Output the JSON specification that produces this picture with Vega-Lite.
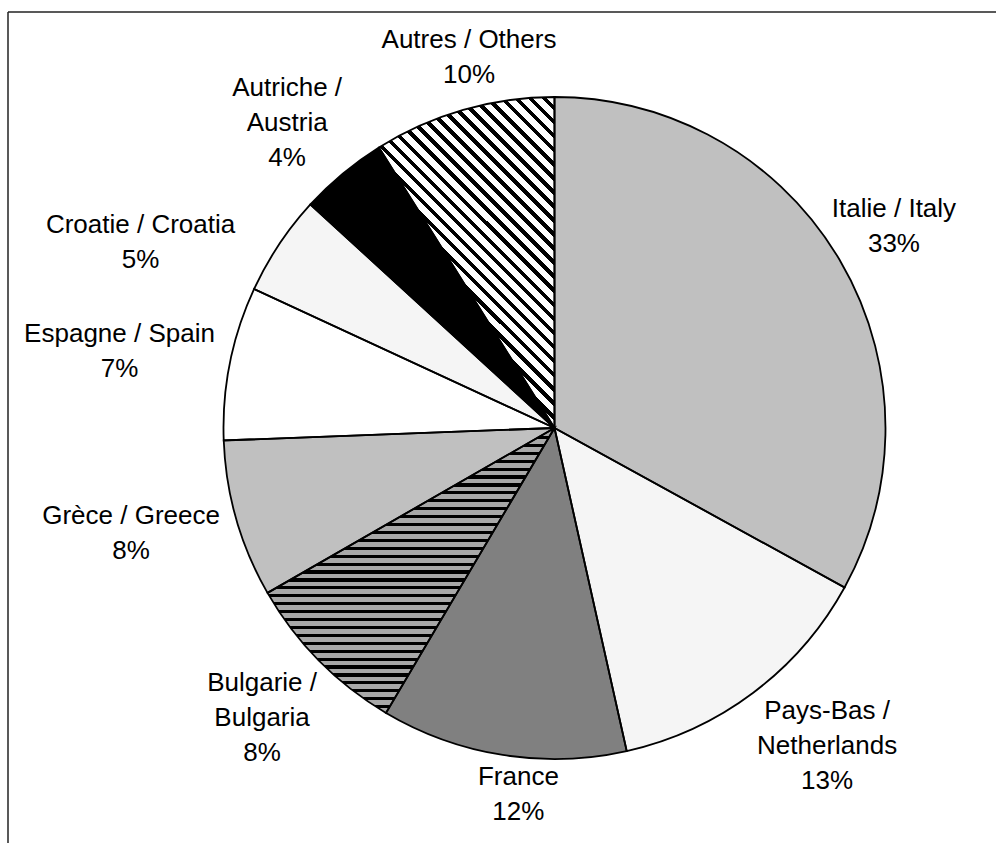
{
  "$schema": "https://vega.github.io/schema/vega-lite/v6.json",
  "autosize": "none",
  "padding": {"left": 8, "top": 12, "right": 0, "bottom": 0},
  "width": 1093,
  "height": 832,
  "background": "#ffffff",
  "config": {"view": {"stroke": null}},
  "data": {"values": [
    {"idx": 1, "key": "Italy", "value": 33.0, "label": "Italie / Italy\n33%"},
    {"idx": 2, "key": "Netherlands", "value": 13.5, "label": "Pays-Bas /\nNetherlands\n13%"},
    {"idx": 3, "key": "France", "value": 12.0, "label": "France\n12%"},
    {"idx": 4, "key": "Bulgaria", "value": 8.2, "label": "Bulgarie /\nBulgaria\n8%"},
    {"idx": 5, "key": "Greece", "value": 7.7, "label": "Grèce / Greece\n8%"},
    {"idx": 6, "key": "Spain", "value": 7.5, "label": "Espagne / Spain\n7%"},
    {"idx": 7, "key": "Croatia", "value": 4.9, "label": "Croatie / Croatia\n5%"},
    {"idx": 8, "key": "Austria", "value": 4.3, "label": "Autriche /\nAustria\n4%"},
    {"idx": 9, "key": "Others", "value": 8.9, "label": "Autres / Others\n10%"}
  ]},
  "layer": [
    {
      "encoding": {
        "theta": {"field": "value", "type": "quantitative", "stack": true},
        "order": {"field": "idx", "type": "quantitative"},
        "detail": {"field": "key", "type": "nominal"}
      },
      "layer": [
        {
          "mark": {"type": "arc", "radius": 331, "strokeWidth": 0},
          "encoding": {
            "color": {"field": "key", "type": "nominal", "legend": null,
              "scale": {"domain": ["Italy", "Netherlands", "France", "Bulgaria", "Greece", "Spain", "Croatia", "Austria", "Others"],
                        "range": ["#c0c0c0", "#f5f5f5", "#808080", "#a8a8a8", "#c0c0c0", "#ffffff", "#f5f5f5", "#000000", "#ffffff"]}}
          }
        },
        {
          "mark": {"type": "arc", "radius": 331, "strokeWidth": 0,
            "fill": {"gradient": "linear", "x1": 0, "y1": 0, "x2": 0, "y2": 1, "stops": [
{"offset":0,"color":"#000"},{"offset":0.01111,"color":"#000"},{"offset":0.01111,"color":"#a8a8a8"},{"offset":0.02778,"color":"#a8a8a8"},
{"offset":0.02778,"color":"#000"},{"offset":0.03889,"color":"#000"},{"offset":0.03889,"color":"#a8a8a8"},{"offset":0.05556,"color":"#a8a8a8"},
{"offset":0.05556,"color":"#000"},{"offset":0.06667,"color":"#000"},{"offset":0.06667,"color":"#a8a8a8"},{"offset":0.08333,"color":"#a8a8a8"},
{"offset":0.08333,"color":"#000"},{"offset":0.09444,"color":"#000"},{"offset":0.09444,"color":"#a8a8a8"},{"offset":0.11111,"color":"#a8a8a8"},
{"offset":0.11111,"color":"#000"},{"offset":0.12222,"color":"#000"},{"offset":0.12222,"color":"#a8a8a8"},{"offset":0.13889,"color":"#a8a8a8"},
{"offset":0.13889,"color":"#000"},{"offset":0.15,"color":"#000"},{"offset":0.15,"color":"#a8a8a8"},{"offset":0.16667,"color":"#a8a8a8"},
{"offset":0.16667,"color":"#000"},{"offset":0.17778,"color":"#000"},{"offset":0.17778,"color":"#a8a8a8"},{"offset":0.19444,"color":"#a8a8a8"},
{"offset":0.19444,"color":"#000"},{"offset":0.20556,"color":"#000"},{"offset":0.20556,"color":"#a8a8a8"},{"offset":0.22222,"color":"#a8a8a8"},
{"offset":0.22222,"color":"#000"},{"offset":0.23333,"color":"#000"},{"offset":0.23333,"color":"#a8a8a8"},{"offset":0.25,"color":"#a8a8a8"},
{"offset":0.25,"color":"#000"},{"offset":0.26111,"color":"#000"},{"offset":0.26111,"color":"#a8a8a8"},{"offset":0.27778,"color":"#a8a8a8"},
{"offset":0.27778,"color":"#000"},{"offset":0.28889,"color":"#000"},{"offset":0.28889,"color":"#a8a8a8"},{"offset":0.30556,"color":"#a8a8a8"},
{"offset":0.30556,"color":"#000"},{"offset":0.31667,"color":"#000"},{"offset":0.31667,"color":"#a8a8a8"},{"offset":0.33333,"color":"#a8a8a8"},
{"offset":0.33333,"color":"#000"},{"offset":0.34444,"color":"#000"},{"offset":0.34444,"color":"#a8a8a8"},{"offset":0.36111,"color":"#a8a8a8"},
{"offset":0.36111,"color":"#000"},{"offset":0.37222,"color":"#000"},{"offset":0.37222,"color":"#a8a8a8"},{"offset":0.38889,"color":"#a8a8a8"},
{"offset":0.38889,"color":"#000"},{"offset":0.4,"color":"#000"},{"offset":0.4,"color":"#a8a8a8"},{"offset":0.41667,"color":"#a8a8a8"},
{"offset":0.41667,"color":"#000"},{"offset":0.42778,"color":"#000"},{"offset":0.42778,"color":"#a8a8a8"},{"offset":0.44444,"color":"#a8a8a8"},
{"offset":0.44444,"color":"#000"},{"offset":0.45556,"color":"#000"},{"offset":0.45556,"color":"#a8a8a8"},{"offset":0.47222,"color":"#a8a8a8"},
{"offset":0.47222,"color":"#000"},{"offset":0.48333,"color":"#000"},{"offset":0.48333,"color":"#a8a8a8"},{"offset":0.5,"color":"#a8a8a8"},
{"offset":0.5,"color":"#000"},{"offset":0.51111,"color":"#000"},{"offset":0.51111,"color":"#a8a8a8"},{"offset":0.52778,"color":"#a8a8a8"},
{"offset":0.52778,"color":"#000"},{"offset":0.53889,"color":"#000"},{"offset":0.53889,"color":"#a8a8a8"},{"offset":0.55556,"color":"#a8a8a8"},
{"offset":0.55556,"color":"#000"},{"offset":0.56667,"color":"#000"},{"offset":0.56667,"color":"#a8a8a8"},{"offset":0.58333,"color":"#a8a8a8"},
{"offset":0.58333,"color":"#000"},{"offset":0.59444,"color":"#000"},{"offset":0.59444,"color":"#a8a8a8"},{"offset":0.61111,"color":"#a8a8a8"},
{"offset":0.61111,"color":"#000"},{"offset":0.62222,"color":"#000"},{"offset":0.62222,"color":"#a8a8a8"},{"offset":0.63889,"color":"#a8a8a8"},
{"offset":0.63889,"color":"#000"},{"offset":0.65,"color":"#000"},{"offset":0.65,"color":"#a8a8a8"},{"offset":0.66667,"color":"#a8a8a8"},
{"offset":0.66667,"color":"#000"},{"offset":0.67778,"color":"#000"},{"offset":0.67778,"color":"#a8a8a8"},{"offset":0.69444,"color":"#a8a8a8"},
{"offset":0.69444,"color":"#000"},{"offset":0.70556,"color":"#000"},{"offset":0.70556,"color":"#a8a8a8"},{"offset":0.72222,"color":"#a8a8a8"},
{"offset":0.72222,"color":"#000"},{"offset":0.73333,"color":"#000"},{"offset":0.73333,"color":"#a8a8a8"},{"offset":0.75,"color":"#a8a8a8"},
{"offset":0.75,"color":"#000"},{"offset":0.76111,"color":"#000"},{"offset":0.76111,"color":"#a8a8a8"},{"offset":0.77778,"color":"#a8a8a8"},
{"offset":0.77778,"color":"#000"},{"offset":0.78889,"color":"#000"},{"offset":0.78889,"color":"#a8a8a8"},{"offset":0.80556,"color":"#a8a8a8"},
{"offset":0.80556,"color":"#000"},{"offset":0.81667,"color":"#000"},{"offset":0.81667,"color":"#a8a8a8"},{"offset":0.83333,"color":"#a8a8a8"},
{"offset":0.83333,"color":"#000"},{"offset":0.84444,"color":"#000"},{"offset":0.84444,"color":"#a8a8a8"},{"offset":0.86111,"color":"#a8a8a8"},
{"offset":0.86111,"color":"#000"},{"offset":0.87222,"color":"#000"},{"offset":0.87222,"color":"#a8a8a8"},{"offset":0.88889,"color":"#a8a8a8"},
{"offset":0.88889,"color":"#000"},{"offset":0.9,"color":"#000"},{"offset":0.9,"color":"#a8a8a8"},{"offset":0.91667,"color":"#a8a8a8"},
{"offset":0.91667,"color":"#000"},{"offset":0.92778,"color":"#000"},{"offset":0.92778,"color":"#a8a8a8"},{"offset":0.94444,"color":"#a8a8a8"},
{"offset":0.94444,"color":"#000"},{"offset":0.95556,"color":"#000"},{"offset":0.95556,"color":"#a8a8a8"},{"offset":0.97222,"color":"#a8a8a8"},
{"offset":0.97222,"color":"#000"},{"offset":0.98333,"color":"#000"},{"offset":0.98333,"color":"#a8a8a8"},{"offset":1,"color":"#a8a8a8"}
            ]}},
          "encoding": {
            "fillOpacity": {"condition": {"test": "datum.key === 'Bulgaria'", "value": 1}, "value": 0}
          }
        },
        {
          "mark": {"type": "arc", "radius": 331, "strokeWidth": 0,
            "fill": {"gradient": "linear", "x1": 0, "y1": 1, "x2": 0.633, "y2": -0.194, "stops": [
{"offset":0,"color":"#000"},{"offset":0.01111,"color":"#000"},{"offset":0.01111,"color":"#fff"},{"offset":0.02778,"color":"#fff"},
{"offset":0.02778,"color":"#000"},{"offset":0.03889,"color":"#000"},{"offset":0.03889,"color":"#fff"},{"offset":0.05556,"color":"#fff"},
{"offset":0.05556,"color":"#000"},{"offset":0.06667,"color":"#000"},{"offset":0.06667,"color":"#fff"},{"offset":0.08333,"color":"#fff"},
{"offset":0.08333,"color":"#000"},{"offset":0.09444,"color":"#000"},{"offset":0.09444,"color":"#fff"},{"offset":0.11111,"color":"#fff"},
{"offset":0.11111,"color":"#000"},{"offset":0.12222,"color":"#000"},{"offset":0.12222,"color":"#fff"},{"offset":0.13889,"color":"#fff"},
{"offset":0.13889,"color":"#000"},{"offset":0.15,"color":"#000"},{"offset":0.15,"color":"#fff"},{"offset":0.16667,"color":"#fff"},
{"offset":0.16667,"color":"#000"},{"offset":0.17778,"color":"#000"},{"offset":0.17778,"color":"#fff"},{"offset":0.19444,"color":"#fff"},
{"offset":0.19444,"color":"#000"},{"offset":0.20556,"color":"#000"},{"offset":0.20556,"color":"#fff"},{"offset":0.22222,"color":"#fff"},
{"offset":0.22222,"color":"#000"},{"offset":0.23333,"color":"#000"},{"offset":0.23333,"color":"#fff"},{"offset":0.25,"color":"#fff"},
{"offset":0.25,"color":"#000"},{"offset":0.26111,"color":"#000"},{"offset":0.26111,"color":"#fff"},{"offset":0.27778,"color":"#fff"},
{"offset":0.27778,"color":"#000"},{"offset":0.28889,"color":"#000"},{"offset":0.28889,"color":"#fff"},{"offset":0.30556,"color":"#fff"},
{"offset":0.30556,"color":"#000"},{"offset":0.31667,"color":"#000"},{"offset":0.31667,"color":"#fff"},{"offset":0.33333,"color":"#fff"},
{"offset":0.33333,"color":"#000"},{"offset":0.34444,"color":"#000"},{"offset":0.34444,"color":"#fff"},{"offset":0.36111,"color":"#fff"},
{"offset":0.36111,"color":"#000"},{"offset":0.37222,"color":"#000"},{"offset":0.37222,"color":"#fff"},{"offset":0.38889,"color":"#fff"},
{"offset":0.38889,"color":"#000"},{"offset":0.4,"color":"#000"},{"offset":0.4,"color":"#fff"},{"offset":0.41667,"color":"#fff"},
{"offset":0.41667,"color":"#000"},{"offset":0.42778,"color":"#000"},{"offset":0.42778,"color":"#fff"},{"offset":0.44444,"color":"#fff"},
{"offset":0.44444,"color":"#000"},{"offset":0.45556,"color":"#000"},{"offset":0.45556,"color":"#fff"},{"offset":0.47222,"color":"#fff"},
{"offset":0.47222,"color":"#000"},{"offset":0.48333,"color":"#000"},{"offset":0.48333,"color":"#fff"},{"offset":0.5,"color":"#fff"},
{"offset":0.5,"color":"#000"},{"offset":0.51111,"color":"#000"},{"offset":0.51111,"color":"#fff"},{"offset":0.52778,"color":"#fff"},
{"offset":0.52778,"color":"#000"},{"offset":0.53889,"color":"#000"},{"offset":0.53889,"color":"#fff"},{"offset":0.55556,"color":"#fff"},
{"offset":0.55556,"color":"#000"},{"offset":0.56667,"color":"#000"},{"offset":0.56667,"color":"#fff"},{"offset":0.58333,"color":"#fff"},
{"offset":0.58333,"color":"#000"},{"offset":0.59444,"color":"#000"},{"offset":0.59444,"color":"#fff"},{"offset":0.61111,"color":"#fff"},
{"offset":0.61111,"color":"#000"},{"offset":0.62222,"color":"#000"},{"offset":0.62222,"color":"#fff"},{"offset":0.63889,"color":"#fff"},
{"offset":0.63889,"color":"#000"},{"offset":0.65,"color":"#000"},{"offset":0.65,"color":"#fff"},{"offset":0.66667,"color":"#fff"},
{"offset":0.66667,"color":"#000"},{"offset":0.67778,"color":"#000"},{"offset":0.67778,"color":"#fff"},{"offset":0.69444,"color":"#fff"},
{"offset":0.69444,"color":"#000"},{"offset":0.70556,"color":"#000"},{"offset":0.70556,"color":"#fff"},{"offset":0.72222,"color":"#fff"},
{"offset":0.72222,"color":"#000"},{"offset":0.73333,"color":"#000"},{"offset":0.73333,"color":"#fff"},{"offset":0.75,"color":"#fff"},
{"offset":0.75,"color":"#000"},{"offset":0.76111,"color":"#000"},{"offset":0.76111,"color":"#fff"},{"offset":0.77778,"color":"#fff"},
{"offset":0.77778,"color":"#000"},{"offset":0.78889,"color":"#000"},{"offset":0.78889,"color":"#fff"},{"offset":0.80556,"color":"#fff"},
{"offset":0.80556,"color":"#000"},{"offset":0.81667,"color":"#000"},{"offset":0.81667,"color":"#fff"},{"offset":0.83333,"color":"#fff"},
{"offset":0.83333,"color":"#000"},{"offset":0.84444,"color":"#000"},{"offset":0.84444,"color":"#fff"},{"offset":0.86111,"color":"#fff"},
{"offset":0.86111,"color":"#000"},{"offset":0.87222,"color":"#000"},{"offset":0.87222,"color":"#fff"},{"offset":0.88889,"color":"#fff"},
{"offset":0.88889,"color":"#000"},{"offset":0.9,"color":"#000"},{"offset":0.9,"color":"#fff"},{"offset":0.91667,"color":"#fff"},
{"offset":0.91667,"color":"#000"},{"offset":0.92778,"color":"#000"},{"offset":0.92778,"color":"#fff"},{"offset":0.94444,"color":"#fff"},
{"offset":0.94444,"color":"#000"},{"offset":0.95556,"color":"#000"},{"offset":0.95556,"color":"#fff"},{"offset":0.97222,"color":"#fff"},
{"offset":0.97222,"color":"#000"},{"offset":0.98333,"color":"#000"},{"offset":0.98333,"color":"#fff"},{"offset":1,"color":"#fff"}
            ]}},
          "encoding": {
            "fillOpacity": {"condition": {"test": "datum.key === 'Others'", "value": 1}, "value": 0}
          }
        },
        {
          "mark": {"type": "arc", "radius": 331, "fill": "#ffffff", "fillOpacity": 0, "stroke": "#000000", "strokeWidth": 1.8}
        },
        {
          "mark": {"type": "text", "radius": 404, "thetaOffset": -0.039, "font": "Liberation Sans", "fontSize": 26, "lineBreak": "\n", "lineHeight": 35, "align": "center", "baseline": "middle", "color": "#000000"},
          "encoding": {"text": {"field": "label"}, "opacity": {"condition": {"test": "datum.key === 'Italy'", "value": 1}, "value": 0}}
        },
        {
          "mark": {"type": "text", "radius": 393, "thetaOffset": -0.1225, "font": "Liberation Sans", "fontSize": 26, "lineBreak": "\n", "lineHeight": 35, "align": "center", "baseline": "middle", "color": "#000000"},
          "encoding": {"text": {"field": "label"}, "opacity": {"condition": {"test": "datum.key === 'Netherlands'", "value": 1}, "value": 0}}
        },
        {
          "mark": {"type": "text", "radius": 351, "thetaOffset": -0.054, "font": "Liberation Sans", "fontSize": 26, "lineBreak": "\n", "lineHeight": 35, "align": "center", "baseline": "middle", "color": "#000000"},
          "encoding": {"text": {"field": "label"}, "opacity": {"condition": {"test": "datum.key === 'France'", "value": 1}, "value": 0}}
        },
        {
          "mark": {"type": "text", "radius": 388, "thetaOffset": 0.062, "font": "Liberation Sans", "fontSize": 26, "lineBreak": "\n", "lineHeight": 35, "align": "center", "baseline": "middle", "color": "#000000"},
          "encoding": {"text": {"field": "label"}, "opacity": {"condition": {"test": "datum.key === 'Bulgaria'", "value": 1}, "value": 0}}
        },
        {
          "mark": {"type": "text", "radius": 432.5, "thetaOffset": 0.0747, "font": "Liberation Sans", "fontSize": 26, "lineBreak": "\n", "lineHeight": 35, "align": "center", "baseline": "middle", "color": "#000000"},
          "encoding": {"text": {"field": "label"}, "opacity": {"condition": {"test": "datum.key === 'Greece'", "value": 1}, "value": 0}}
        },
        {
          "mark": {"type": "text", "radius": 445, "thetaOffset": 0.0148, "font": "Liberation Sans", "fontSize": 26, "lineBreak": "\n", "lineHeight": 35, "align": "center", "baseline": "middle", "color": "#000000"},
          "encoding": {"text": {"field": "label"}, "opacity": {"condition": {"test": "datum.key === 'Spain'", "value": 1}, "value": 0}}
        },
        {
          "mark": {"type": "text", "radius": 461, "thetaOffset": -0.1316, "font": "Liberation Sans", "fontSize": 26, "lineBreak": "\n", "lineHeight": 35, "align": "center", "baseline": "middle", "color": "#000000"},
          "encoding": {"text": {"field": "label"}, "opacity": {"condition": {"test": "datum.key === 'Croatia'", "value": 1}, "value": 0}}
        },
        {
          "mark": {"type": "text", "radius": 432.6, "thetaOffset": 0.0281, "font": "Liberation Sans", "fontSize": 26, "lineBreak": "\n", "lineHeight": 35, "align": "center", "baseline": "middle", "color": "#000000"},
          "encoding": {"text": {"field": "label"}, "opacity": {"condition": {"test": "datum.key === 'Austria'", "value": 1}, "value": 0}}
        },
        {
          "mark": {"type": "text", "radius": 397, "thetaOffset": 0.0625, "font": "Liberation Sans", "fontSize": 26, "lineBreak": "\n", "lineHeight": 35, "align": "center", "baseline": "middle", "color": "#000000"},
          "encoding": {"text": {"field": "label"}, "opacity": {"condition": {"test": "datum.key === 'Others'", "value": 1}, "value": 0}}
        }
      ]
    },
    {
      "data": {"values": [{"frame": "top"}]},
      "mark": {"type": "rule", "stroke": "#222222", "strokeWidth": 1.5},
      "encoding": {"y": {"value": 0}}
    },
    {
      "data": {"values": [{"frame": "left"}]},
      "mark": {"type": "rule", "stroke": "#222222", "strokeWidth": 1.5},
      "encoding": {"x": {"value": 0}}
    }
  ]
}
